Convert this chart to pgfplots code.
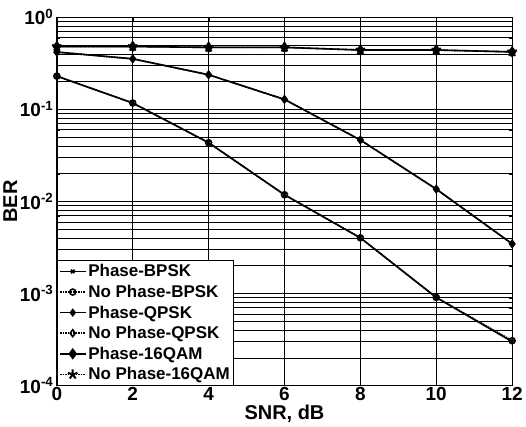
\documentclass[border=0pt]{standalone}
\usepackage{fontspec}
\setmainfont{Liberation Sans}
\usepackage{pgfplots}
\pgfplotsset{compat=1.18}
\usetikzlibrary{plotmarks}

\begin{document}
\begin{tikzpicture}
\begin{axis}[
	scale only axis,
	width=456pt, height=369pt,
	ymode=log, log basis y=10,
	xmin=0, xmax=12, ymin=1e-4, ymax=1,
	xtick={0,2,...,12},
	yticklabel={10\textsuperscript{\pgfmathprintnumber[fixed,precision=0]{\tick}}},
	/pgf/number format/assume math mode=true,
	tick label style={font=\fontsize{19}{21}\selectfont\bfseries},
	label style={font=\fontsize{20}{22}\selectfont\bfseries},
	xlabel={SNR, dB}, ylabel={BER},
	xlabel style={yshift=2pt}, ylabel style={yshift=-4pt},
	xticklabel style={yshift=2pt},
	grid=both,
	major grid style={black, line width=0.6pt},
	minor grid style={black, line width=0.6pt},
	axis line style={black, line width=0.8pt},
	tick style={black},
	legend cell align=left,
	legend style={at={(0,0)}, anchor=south west,
		font=\fontsize{17}{20}\selectfont\bfseries, draw=black, line width=0.6pt,
		fill=white, inner sep=2pt, row sep=2.8pt,
		nodes={inner sep=2pt}},
	legend image code/.code={
		\draw[mark repeat=2,mark phase=2,#1]
		plot coordinates {(0cm,0cm) (0.45cm,0cm) (0.9cm,0cm)};},
	every axis plot/.append style={black, line width=1.6pt},
]
\addplot[mark=x, mark size=2.5pt] coordinates {
	(0,0.229) (2,0.117) (4,0.0434) (6,0.0118) (8,0.00402) (10,0.000906) (12,0.000300)};
\addplot[densely dotted, mark=o, mark size=3pt, mark options={solid}] coordinates {
	(0,0.229) (2,0.117) (4,0.0434) (6,0.0118) (8,0.00402) (10,0.000906) (12,0.000307)};
\addplot[mark=diamond*, mark size=3pt] coordinates {
	(0,0.418) (2,0.353) (4,0.237) (6,0.128) (8,0.0464) (10,0.0136) (12,0.00346)};
\addplot[densely dotted, mark=diamond, mark size=3.5pt, mark options={solid}] coordinates {
	(0,0.418) (2,0.353) (4,0.237) (6,0.128) (8,0.0464) (10,0.0136) (12,0.00346)};
\addplot[mark=diamond*, mark size=4.5pt] coordinates {
	(0,0.48) (2,0.48) (4,0.47) (6,0.47) (8,0.44) (10,0.44) (12,0.42)};
\addplot[densely dotted, mark=star, mark size=5pt, mark options={solid, line width=2pt}] coordinates {
	(0,0.48) (2,0.48) (4,0.47) (6,0.47) (8,0.44) (10,0.44) (12,0.42)};
\legend{Phase-BPSK, No Phase-BPSK, Phase-QPSK, No Phase-QPSK, Phase-16QAM, No Phase-16QAM}
\end{axis}
\path ([yshift=6pt]current bounding box.north);
\end{tikzpicture}
\end{document}
